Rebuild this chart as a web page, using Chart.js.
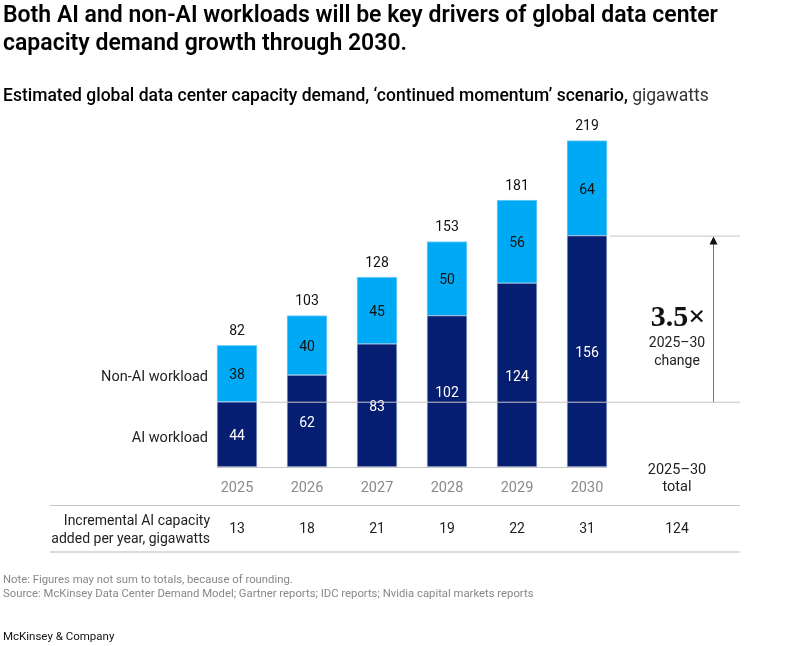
<!DOCTYPE html>
<html>
<head>
<meta charset="utf-8">
<script src="https://cdn.jsdelivr.net/npm/chart.js@4.4.1/dist/chart.umd.min.js"></script>
<style>
  body { margin: 0; background: #fff; font-family: "Roboto", "Liberation Sans", sans-serif; color: #000; }
  .wrap { position: relative; width: 810px; height: 646px; overflow: hidden; }
  #chart { position: absolute; left: 0; top: 0; }
  .title { position: absolute; left: 3px; top: 1px; width: 800px; font-size: 23px; font-weight: 600; line-height: 28px; }
  .subtitle { position: absolute; left: 3px; top: 85px; font-size: 17.5px; font-weight: 500; }
  .subtitle span { font-weight: 400; color: #333; }
  .note { position: absolute; left: 3px; top: 573px; font-size: 11.3px; color: #888; line-height: 14px; }
  .brand { position: absolute; left: 3px; top: 629px; font-size: 11.5px; color: #111; }
</style>
</head>
<body>
<div class="wrap">
  <canvas id="chart" width="810" height="646"></canvas>
  <div class="title">Both AI and non-AI workloads will be key drivers of global data center<br>capacity demand growth through 2030.</div>
  <div class="subtitle">Estimated global data center capacity demand, ‘continued momentum’ scenario, <span>gigawatts</span></div>
  <div class="note">Note: Figures may not sum to totals, because of rounding.<br>Source: McKinsey Data Center Demand Model; Gartner reports; IDC reports; Nvidia capital markets reports</div>
  <div class="brand">McKinsey &amp; Company</div>
</div>
<script>
// Chart data
const years = ['2025', '2026', '2027', '2028', '2029', '2030'];
const aiWorkload = [44, 62, 83, 102, 124, 156];
const nonAiWorkload = [38, 40, 45, 50, 56, 64];
const totals = [82, 103, 128, 153, 181, 219];
const incrementalAi = [13, 18, 21, 19, 22, 31];
const incrementalTotal = 124;
const changeLabel = '3.5×';

const navy = '#061e72';
const sky = '#00a9f4';
const lineGray = '#c4c4c4';

document.addEventListener('DOMContentLoaded', () => {
  const canvas = document.getElementById('chart');

  const extras = {
    id: 'extras',
    afterDatasetsDraw(chart) {
      const ctx = chart.ctx;
      const y = chart.scales.y;
      const meta0 = chart.getDatasetMeta(0);
      const meta1 = chart.getDatasetMeta(1);
      const font = (s, w) => (w || '400') + ' ' + s + 'px Roboto, "Liberation Sans", sans-serif';

      ctx.save();
      ctx.textAlign = 'center';
      ctx.textBaseline = 'middle';

      // values inside segments and totals on top
      for (let i = 0; i < totals.length; i++) {
        const a = meta0.data[i];
        const b = meta1.data[i];
        ctx.font = font(14);
        ctx.fillStyle = '#fff';
        ctx.fillText(aiWorkload[i], a.x, (a.y + a.base) / 2 + 2);
        ctx.fillStyle = '#111';
        ctx.fillText(nonAiWorkload[i], b.x, (b.y + b.base) / 2 + 2);
        ctx.fillText(totals[i], b.x, b.y - 14);
        // year labels
        ctx.font = font(14.5);
        ctx.fillStyle = '#8a8a8a';
        ctx.fillText(years[i], a.x, y.getPixelForValue(0) + 21);
      }

      const last = totals.length - 1;
      const half = meta0.data[0].width / 2;
      const base = y.getPixelForValue(0);
      const y25 = y.getPixelForValue(aiWorkload[0]);
      const y30 = y.getPixelForValue(aiWorkload[last]);
      const xTot = meta0.data[last].x + 90;
      const rightEdge = 740;

      ctx.strokeStyle = lineGray;
      ctx.lineWidth = 1;
      ctx.beginPath();
      ctx.moveTo(meta0.data[0].x - half, base + 0.5);
      ctx.lineTo(meta0.data[last].x + half, base + 0.5);
      ctx.moveTo(meta0.data[0].x + half + 3, y25 + 0.5);
      ctx.lineTo(rightEdge, y25 + 0.5);
      ctx.moveTo(meta0.data[last].x + half + 3, y30 + 0.5);
      ctx.lineTo(rightEdge, y30 + 0.5);
      ctx.stroke();

      // arrow
      const ax = 713.5;
      ctx.strokeStyle = '#777';
      ctx.beginPath();
      ctx.moveTo(ax, y25);
      ctx.lineTo(ax, y30 + 6);
      ctx.stroke();
      ctx.fillStyle = '#111';
      ctx.beginPath();
      ctx.moveTo(ax, y30 + 1);
      ctx.lineTo(ax - 4, y30 + 9);
      ctx.lineTo(ax + 4, y30 + 9);
      ctx.closePath();
      ctx.fill();

      // change annotation
      ctx.fillStyle = '#111';
      ctx.font = 'bold 30px "Liberation Serif", "DejaVu Serif", serif';
      ctx.fillText(changeLabel, xTot + 1, 318);
      ctx.font = font(14);
      ctx.fillStyle = '#222';
      ctx.fillText('2025–30', xTot, 343);
      ctx.fillText('change', xTot, 361);

      // total column header
      ctx.font = font(14.5);
      ctx.fillText('2025–30', xTot, 470);
      ctx.fillText('total', xTot, 487);

      // side legend labels
      ctx.textAlign = 'right';
      ctx.font = font(14.5);
      ctx.fillStyle = '#222';
      ctx.fillText('Non-AI workload', 208, y.getPixelForValue(aiWorkload[0] + nonAiWorkload[0] / 2) + 4);
      ctx.fillText('AI workload', 208, y.getPixelForValue(aiWorkload[0] / 2) + 4);

      // incremental table
      ctx.strokeStyle = lineGray;
      ctx.beginPath();
      ctx.moveTo(50, 505.5);
      ctx.lineTo(rightEdge, 505.5);
      ctx.stroke();
      ctx.strokeStyle = '#dcdcdc';
      ctx.lineWidth = 2;
      ctx.beginPath();
      ctx.moveTo(50, 552);
      ctx.lineTo(rightEdge, 552);
      ctx.stroke();

      ctx.font = font(14);
      ctx.fillStyle = '#222';
      ctx.fillText('Incremental AI capacity', 210, 521);
      ctx.fillText('added per year, gigawatts', 210, 539);
      ctx.textAlign = 'center';
      ctx.font = font(14);
      for (let i = 0; i < incrementalAi.length; i++) {
        ctx.fillText(incrementalAi[i], meta0.data[i].x, 529);
      }
      ctx.fillText(incrementalTotal, xTot, 529);
      ctx.restore();
    }
  };

  new Chart(canvas, {
    type: 'bar',
    data: {
      labels: years,
      datasets: [
        {
          label: 'AI workload',
          data: aiWorkload,
          backgroundColor: navy,
          borderColor: '#aab4d6',
          borderWidth: 1,
          borderSkipped: false,
        },
        {
          label: 'Non-AI workload',
          data: nonAiWorkload,
          backgroundColor: sky,
          borderColor: '#7fd0f7',
          borderWidth: 1,
          borderSkipped: false,
        },
      ],
    },
    options: {
      responsive: false,
      animation: false,
      layout: { padding: { left: 202, right: 188, top: 111, bottom: 179 } },
      datasets: { bar: { barThickness: 40 } },
      scales: {
        x: { stacked: true, display: false },
        y: { stacked: true, display: false, min: 0, max: 240 },
      },
      plugins: {
        legend: { display: false },
        tooltip: { enabled: false },
      },
    },
    plugins: [extras],
  });
});
</script>
</body>
</html>
